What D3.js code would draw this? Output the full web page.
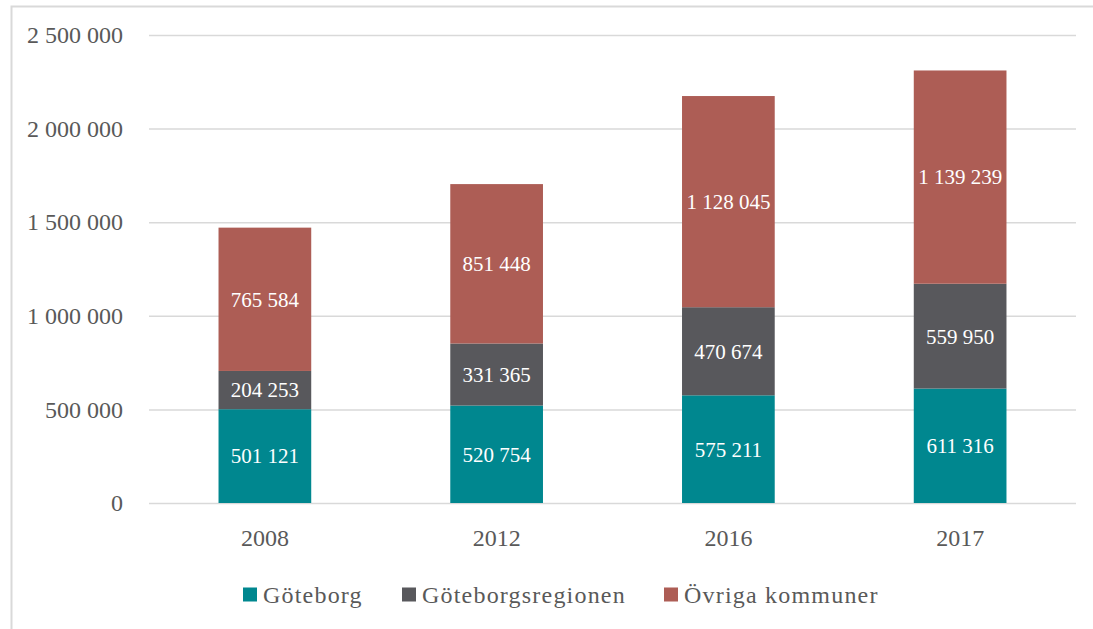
<!DOCTYPE html>
<html>
<head>
<meta charset="utf-8">
<script src="https://cdn.jsdelivr.net/npm/d3@7"></script>
<style>
  body { margin: 0; background: #fff; }
  svg { display: block; }
  text { font-family: "Liberation Serif", serif; }
</style>
</head>
<body>
<div id="chart"></div>
<script>
const years = ["2008", "2012", "2016", "2017"];
const seriesNames = ["Göteborg", "Göteborgsregionen", "Övriga kommuner"];
const goteborg = [501121, 520754, 575211, 611316];
const regionen = [204253, 331365, 470674, 559950];
const ovriga = [765584, 851448, 1128045, 1139239];
const yTicks = [0, 500000, 1000000, 1500000, 2000000, 2500000];
const colors = ["#00878F", "#58585C", "#AD5D55"];

const W = 1093, H = 629;
const margin = { top: 35, left: 149, right: 17, bottom: 126 };
const fontFamily = "Liberation Serif";
const textColor = "#595959";
const gridColor = "#D9D9D9";

const data = years.map((y, i) => ({
    year: y,
    [seriesNames[0]]: goteborg[i],
    [seriesNames[1]]: regionen[i],
    [seriesNames[2]]: ovriga[i]
}));

const svg = d3.select("#chart").append("svg")
    .attr("width", W)
    .attr("height", H)
    .attr("font-family", fontFamily);

// outer frame
svg.append("rect")
    .attr("x", 11.5).attr("y", 6.5)
    .attr("width", W + 20).attr("height", H + 20)
    .attr("fill", "none")
    .attr("stroke", gridColor)
    .attr("stroke-width", 2);

const x = d3.scaleBand()
    .domain(years)
    .range([margin.left, W - margin.right])
    .paddingInner(0.6)
    .paddingOuter(0.3);

const y = d3.scaleLinear()
    .domain([0, 2500000])
    .range([H - margin.bottom, margin.top]);

const fmt = v => d3.format(",")(v).replace(/,/g, " ");

// gridlines + y labels
const yAxis = d3.axisLeft(y)
    .tickValues(yTicks)
    .tickSize(-(W - margin.left - margin.right))
    .tickPadding(26)
    .tickFormat(fmt);

const yg = svg.append("g")
    .attr("transform", `translate(${margin.left},0)`)
    .call(yAxis)
    .attr("font-family", fontFamily)
    .attr("font-size", 24);
yg.select(".domain").remove();
yg.selectAll(".tick line").attr("stroke", gridColor).attr("stroke-width", 1.5);
yg.selectAll(".tick text").attr("fill", textColor);

const layers = d3.stack().keys(seriesNames)(data);

const layer = svg.selectAll(".layer")
    .data(layers)
    .enter()
    .append("g")
    .attr("class", "layer")
    .attr("fill", (d, i) => colors[i]);

layer.selectAll("rect")
    .data(d => d)
    .enter()
    .append("rect")
    .attr("x", d => x(d.data.year))
    .attr("y", d => y(d[1]))
    .attr("width", x.bandwidth())
    .attr("height", d => y(d[0]) - y(d[1]));

layer.selectAll("text")
    .data(d => d)
    .enter()
    .append("text")
    .attr("x", d => x(d.data.year) + x.bandwidth() / 2)
    .attr("y", d => (y(d[0]) + y(d[1])) / 2)
    .attr("dy", "0.35em")
    .attr("text-anchor", "middle")
    .attr("fill", "#fff")
    .attr("font-size", 21)
    .text(d => fmt(d[1] - d[0]));

// x axis labels
const xAxis = d3.axisBottom(x).tickSize(0).tickPadding(26);
const xg = svg.append("g")
    .attr("transform", `translate(0,${H - margin.bottom})`)
    .call(xAxis)
    .attr("font-family", fontFamily)
    .attr("font-size", 24);
xg.select(".domain").remove();
xg.selectAll(".tick text").attr("fill", textColor);

// legend
const legendX = [243, 402, 664];
const legend = svg.append("g").attr("class", "legend");
const item = legend.selectAll("g")
    .data(seriesNames)
    .enter()
    .append("g")
    .attr("transform", (d, i) => `translate(${legendX[i]},594.5)`);
item.append("rect")
    .attr("x", 0).attr("y", -7)
    .attr("width", 14).attr("height", 14)
    .attr("fill", (d, i) => colors[i]);
item.append("text")
    .attr("x", 20)
    .attr("dy", "0.35em")
    .attr("fill", textColor)
    .attr("font-size", 24)
    .attr("letter-spacing", 1.2)
    .text(d => d);
</script>
</body>
</html>
